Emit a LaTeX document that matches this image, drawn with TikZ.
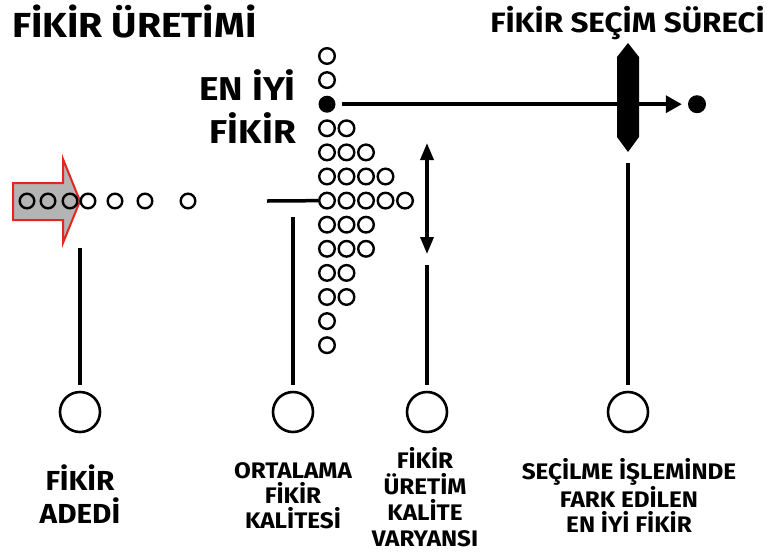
\documentclass[tikz,border=0pt]{standalone}
\usepackage{fontspec}
\setmainfont{Fira Sans}[FakeStretch=1.08]
\newfontfamily\headfont{Fira Sans}[FakeStretch=1.12]
\usetikzlibrary{arrows.meta}
\definecolor{arrowred}{HTML}{E3261E}
\definecolor{arrowgray}{HTML}{B4B4B4}
\begin{document}
\begin{tikzpicture}[x=1pt,y=-1pt,
  lbl/.style={inner sep=0pt, align=center, text=black},
  idea/.style={circle, draw=black, line width=2.4pt, minimum size=15.6pt, inner sep=0pt},
  bestdot/.style={circle, fill=black, minimum size=17pt, inner sep=0pt},
  bigcircle/.style={circle, draw=black, line width=2.6pt, minimum size=40pt, inner sep=0pt},
  stem/.style={line width=4pt, shorten >=6pt},
  mainline/.style={line width=3.5pt},
]
\useasboundingbox (0,0) rectangle (767,555);

% --- headings (multi-line nodes sit on the baseline of their last line) ---
\node[lbl, font=\headfont\bfseries\fontsize{34.8}{40}\selectfont, anchor=base west] (title) at (12,37) {FİKİR ÜRETİMİ};
\node[lbl, font=\headfont\bfseries\fontsize{28}{32}\selectfont, anchor=base east] (seltitle) at (765,32) {FİKİR SEÇİM SÜRECİ};
\node[lbl, align=right, font=\headfont\bfseries\fontsize{33}{43}\selectfont, anchor=base east] (besttxt) at (296,143) {EN İYİ\\FİKİR};

% --- incoming arrow with the stream of ideas ---
\coordinate (arrA) at (13,183);
\filldraw[fill=arrowgray, draw=arrowred, line width=2pt, line join=miter]
  (arrA) -- (63,183) -- (63,159) -- (80,201) -- (63,243) -- (63,220) -- (13,220) -- cycle;
\foreach \x [count=\i] in {27,48,70,88,115,145,188}
  \node[idea, minimum size=14.6pt] (stream-\i) at (\x,201) {};

% --- distribution of ideas by quality ---
\foreach \r/\k in {0/1,1/1,3/2,4/3,5/4,6/5,7/3,8/3,9/2,10/2,11/1,12/1}
  \foreach \c in {1,...,\k}
    \node[idea] (col-\r-\c) at ({327+19.5*(\c-1)}, {56+24.1*\r}) {};
\node[bestdot] (best) at (327,104.2) {};

% --- selection gate and chosen idea ---
\node[bestdot, minimum size=18pt] (chosen) at (697,104.2) {};
\draw[mainline, -{Triangle[length=16pt,width=17pt]}, shorten <=6pt, shorten >=6pt] (best) -- (chosen);
\coordinate (gate) at (628,97.5);
\fill (628,43) -- (639,57) -- (639,137) -- (628,152) -- (617,137) -- (617,57) -- cycle;

% --- spread of quality ---
\coordinate (vtop) at (427,143);
\coordinate (vbot) at (427,254);
\draw[line width=3.5pt, {Triangle[length=17pt,width=13pt]}-{Triangle[length=17pt,width=13pt]}] (vtop) -- (vbot);

% --- mean quality marker ---
\coordinate (meanL) at (267,201);
\draw[line width=3.5pt] (meanL) -- (col-6-1);

% --- measurement circles ---
\node[bigcircle] (c1) at (80,412) {};
\node[bigcircle] (c2) at (293,412) {};
\node[bigcircle] (c3) at (427,412) {};
\node[bigcircle] (c4) at (628,412) {};

\coordinate (s1) at (80,248);
\coordinate (s2) at (293,217);
\coordinate (s3) at (427,265);
\coordinate (s4) at (628,163);
\draw[stem] (s1) -- (c1);
\draw[stem] (s2) -- (c2);
\draw[stem] (s3) -- (c3);
\draw[stem] (s4) -- (c4);

% --- captions ---
\node[lbl, font=\bfseries\fontsize{27.5}{33}\selectfont, anchor=base] (t1) at (80,523) {FİKİR\\ADEDİ};
\node[lbl, font=\bfseries\fontsize{22.5}{25}\selectfont, anchor=base] (t2) at (293,528) {ORTALAMA\\FİKİR\\KALİTESİ};
\node[lbl, font=\bfseries\fontsize{22.5}{26}\selectfont, anchor=base] (t3) at (425,546) {FİKİR\\ÜRETİM\\KALİTE\\VARYANSI};
\node[lbl, font=\bfseries\fontsize{22.5}{25}\selectfont, anchor=base] (t4) at (629,532) {SEÇİLME İŞLEMİNDE\\FARK EDİLEN\\EN İYİ FİKİR};
\end{tikzpicture}
\end{document}
